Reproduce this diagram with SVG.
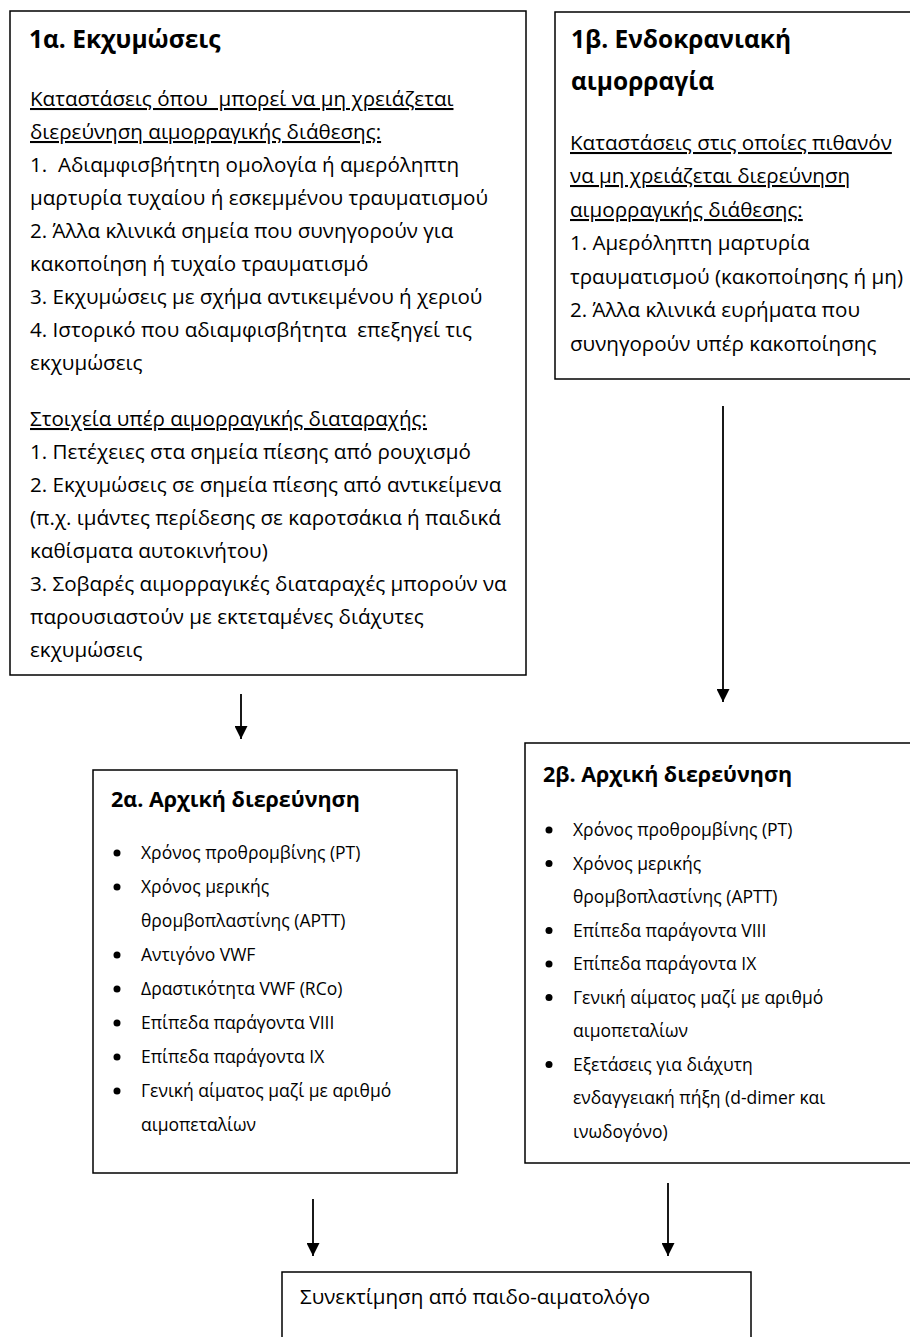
<svg xmlns="http://www.w3.org/2000/svg" width="910" height="1337" viewBox="0 0 910 1337">
<style>
  .box { fill: #ffffff; stroke: #000000; stroke-width: 1.5; }
  .t, .s { font-family: "Open Sans", "Noto Sans", "DejaVu Sans", sans-serif; fill: #000000; white-space: pre; }
  .t { font-size: 20.6px; }
  .s { font-size: 17.5px; }
  .h, .hs { font-family: "Open Sans", "Noto Sans", "DejaVu Sans", sans-serif; font-weight: bold; fill: #000000; }
  .h { font-size: 24.5px; }
  .hs { font-size: 21.5px; }
  .u { text-decoration: underline; }
  .conn line { stroke: #000000; stroke-width: 1.8; }
  .dot { fill: #000000; }
</style>
<defs>
  <marker id="ah" markerWidth="13" markerHeight="13" refX="13" refY="6.5" orient="auto" markerUnits="userSpaceOnUse" viewBox="0 0 13 13">
    <path d="M0,0 L13,6.5 L0,13 Z" fill="#000000"/>
  </marker>
</defs>
<rect width="910" height="1337" fill="#ffffff"/>

<g id="node-1a">
  <rect class="box" x="10" y="11" width="516" height="664"/>
  <text class="h" x="29" y="48">1α. Εκχυμώσεις</text>
  <text class="t u" x="30" y="106">Καταστάσεις όπου  μπορεί να μη χρειάζεται</text>
  <text class="t u" x="30" y="139">διερεύνηση αιμορραγικής διάθεσης:</text>
  <text class="t" x="30" y="172">1.  Αδιαμφισβήτητη ομολογία ή αμερόληπτη</text>
  <text class="t" x="30" y="205">μαρτυρία τυχαίου ή εσκεμμένου τραυματισμού</text>
  <text class="t" x="30" y="238">2. Άλλα κλινικά σημεία που συνηγορούν για</text>
  <text class="t" x="30" y="271">κακοποίηση ή τυχαίο τραυματισμό</text>
  <text class="t" x="30" y="304">3. Εκχυμώσεις με σχήμα αντικειμένου ή χεριού</text>
  <text class="t" x="30" y="337">4. Ιστορικό που αδιαμφισβήτητα  επεξηγεί τις</text>
  <text class="t" x="30" y="370">εκχυμώσεις</text>
  <text class="t u" x="30" y="426">Στοιχεία υπέρ αιμορραγικής διαταραχής:</text>
  <text class="t" x="30" y="459">1. Πετέχειες στα σημεία πίεσης από ρουχισμό</text>
  <text class="t" x="30" y="492">2. Εκχυμώσεις σε σημεία πίεσης από αντικείμενα</text>
  <text class="t" x="30" y="525">(π.χ. ιμάντες περίδεσης σε καροτσάκια ή παιδικά</text>
  <text class="t" x="30" y="558">καθίσματα αυτοκινήτου)</text>
  <text class="t" x="30" y="591">3. Σοβαρές αιμορραγικές διαταραχές μπορούν να</text>
  <text class="t" x="30" y="624">παρουσιαστούν με εκτεταμένες διάχυτες</text>
  <text class="t" x="30" y="657">εκχυμώσεις</text>
</g>

<g id="node-1b">
  <rect class="box" x="555" y="12" width="400" height="367"/>
  <text class="h" x="571" y="48">1β. Ενδοκρανιακή</text>
  <text class="h" x="571" y="90">αιμορραγία</text>
  <text class="t u" x="570" y="150">Καταστάσεις στις οποίες πιθανόν</text>
  <text class="t u" x="570" y="183">να μη χρειάζεται διερεύνηση</text>
  <text class="t u" x="570" y="217">αιμορραγικής διάθεσης:</text>
  <text class="t" x="570" y="250">1. Αμερόληπτη μαρτυρία</text>
  <text class="t" x="570" y="284">τραυματισμού (κακοποίησης ή μη)</text>
  <text class="t" x="570" y="317">2. Άλλα κλινικά ευρήματα που</text>
  <text class="t" x="570" y="351">συνηγορούν υπέρ κακοποίησης</text>
</g>

<g id="node-2a">
  <rect class="box" x="93" y="770" width="364" height="403"/>
  <text class="hs" x="111" y="807">2α. Αρχική διερεύνηση</text>
  <circle class="dot" cx="117" cy="853" r="3.5"/>
  <text class="s" x="141" y="859">Χρόνος προθρομβίνης (PT)</text>
  <circle class="dot" cx="117" cy="887" r="3.5"/>
  <text class="s" x="141" y="893">Χρόνος μερικής</text>
  <text class="s" x="141" y="927">θρομβοπλαστίνης (APTT)</text>
  <circle class="dot" cx="117" cy="955" r="3.5"/>
  <text class="s" x="141" y="961">Αντιγόνο VWF</text>
  <circle class="dot" cx="117" cy="989" r="3.5"/>
  <text class="s" x="141" y="995">Δραστικότητα VWF (RCo)</text>
  <circle class="dot" cx="117" cy="1023" r="3.5"/>
  <text class="s" x="141" y="1029">Επίπεδα παράγοντα VIII</text>
  <circle class="dot" cx="117" cy="1057" r="3.5"/>
  <text class="s" x="141" y="1063">Επίπεδα παράγοντα IX</text>
  <circle class="dot" cx="117" cy="1091" r="3.5"/>
  <text class="s" x="141" y="1097">Γενική αίματος μαζί με αριθμό</text>
  <text class="s" x="141" y="1131">αιμοπεταλίων</text>
</g>

<g id="node-2b">
  <rect class="box" x="525" y="743" width="400" height="420"/>
  <text class="hs" x="543" y="782">2β. Αρχική διερεύνηση</text>
  <circle class="dot" cx="549" cy="830" r="3.5"/>
  <text class="s" x="573" y="836">Χρόνος προθρομβίνης (PT)</text>
  <circle class="dot" cx="549" cy="863.5" r="3.5"/>
  <text class="s" x="573" y="869.5">Χρόνος μερικής</text>
  <text class="s" x="573" y="903">θρομβοπλαστίνης (APTT)</text>
  <circle class="dot" cx="549" cy="930.5" r="3.5"/>
  <text class="s" x="573" y="936.5">Επίπεδα παράγοντα VIII</text>
  <circle class="dot" cx="549" cy="964" r="3.5"/>
  <text class="s" x="573" y="970">Επίπεδα παράγοντα IX</text>
  <circle class="dot" cx="549" cy="997.5" r="3.5"/>
  <text class="s" x="573" y="1003.5">Γενική αίματος μαζί με αριθμό</text>
  <text class="s" x="573" y="1037">αιμοπεταλίων</text>
  <circle class="dot" cx="549" cy="1064.5" r="3.5"/>
  <text class="s" x="573" y="1070.5">Εξετάσεις για διάχυτη</text>
  <text class="s" x="573" y="1104">ενδαγγειακή πήξη (d-dimer και</text>
  <text class="s" x="573" y="1137.5">ινωδογόνο)</text>
</g>

<g id="node-3">
  <rect class="box" x="282" y="1272" width="469" height="90"/>
  <text class="t" x="300" y="1304">Συνεκτίμηση από παιδο-αιματολόγο</text>
</g>

<g id="connectors" class="conn">
  <line x1="241" y1="694" x2="241" y2="739" marker-end="url(#ah)"/>
  <line x1="723" y1="406" x2="723" y2="702" marker-end="url(#ah)"/>
  <line x1="313" y1="1199" x2="313" y2="1256" marker-end="url(#ah)"/>
  <line x1="668" y1="1183" x2="668" y2="1256" marker-end="url(#ah)"/>
</g>
</svg>
